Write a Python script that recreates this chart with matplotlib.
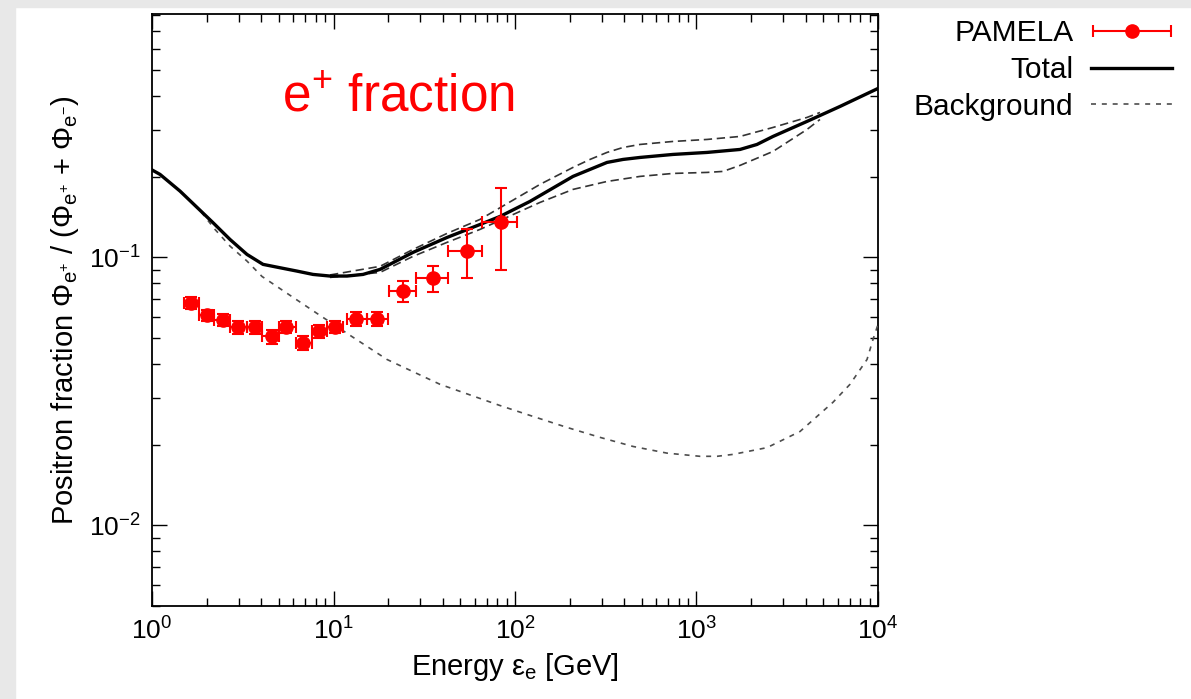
import numpy as np
import matplotlib
matplotlib.use("Agg")
from matplotlib import pyplot as plt
from matplotlib.patches import Rectangle
from matplotlib.ticker import LogLocator, NullFormatter
from matplotlib.container import ErrorbarContainer
from matplotlib.legend_handler import HandlerErrorbar

plt.rcParams['font.family'] = ['Liberation Sans', 'DejaVu Sans']
plt.rcParams['mathtext.fontset'] = 'custom'
plt.rcParams['mathtext.rm'] = 'Liberation Sans'
plt.rcParams['mathtext.it'] = 'Liberation Sans'
plt.rcParams['mathtext.sf'] = 'Liberation Sans'

# PAMELA positron fraction
pam_E = [1.65, 2.0, 2.45, 2.99, 3.69, 4.57, 5.45, 6.82, 8.32, 10.2, 13.3, 17.4, 24.2, 35.5, 54.2, 83.4]
pam_lo = [1.51, 1.82, 2.20, 2.69, 3.32, 4.05, 5.03, 6.19, 7.59, 9.18, 11.8, 15.2, 20.3, 28.4, 42.9, 65.5]
pam_hi = [1.82, 2.20, 2.69, 3.32, 4.05, 5.03, 6.19, 7.59, 9.18, 11.3, 15.2, 20.0, 28.4, 42.9, 65.5, 102.0]
pam_f = [0.0678, 0.0608, 0.0584, 0.0550, 0.0550, 0.0507, 0.0551, 0.0481, 0.0531, 0.0551,
         0.0590, 0.0590, 0.0749, 0.0835, 0.106, 0.136]
pam_err = [0.0035, 0.003, 0.003, 0.003, 0.003, 0.003, 0.003, 0.003, 0.003, 0.003,
           0.0034, 0.0034, 0.0065, 0.0093, 0.022, 0.046]

# total model
tot_E = [1.0, 1.107, 1.427, 2.168, 2.690, 3.337, 4.089, 5.073, 6.294, 7.712, 9.565, 11.87,
         14.54, 18.04, 27.42, 42.21, 64.15, 82.69, 120.9, 208.7, 258.9, 321.3, 393.6, 488.3,
         742.3, 1143, 1737, 2154, 2639, 4062, 6175, 10000]
tot_f = [0.2121, 0.2041, 0.1768, 0.1348, 0.1167, 0.1026, 0.0942, 0.0915, 0.0889, 0.0864,
         0.0852, 0.0852, 0.0864, 0.0902, 0.1044, 0.1187, 0.1327, 0.1422, 0.1618, 0.2006,
         0.2130, 0.2262, 0.2321, 0.2361, 0.2423, 0.2465, 0.2529, 0.2640, 0.2828, 0.3218,
         0.3660, 0.4272]

# uncertainty band around total (dashed)
up_E = [9.565, 18.04, 27.42, 42.21, 64.15, 137.3, 208.7, 258.9, 321.3, 393.6, 488.3, 742.3,
        1143, 1737, 2639, 4062, 4790]
up_f = [0.0860, 0.0926, 0.1071, 0.1229, 0.1386, 0.1873, 0.2167, 0.2321, 0.2465, 0.2572,
        0.2640, 0.2709, 0.2756, 0.2828, 0.3055, 0.3330, 0.3475]
lo_E = [9.565, 18.04, 27.42, 42.21, 64.15, 137.3, 208.7, 321.3, 488.3, 742.3, 1143, 1400,
        1737, 2639, 4062, 4790]
lo_f = [0.0842, 0.0879, 0.1009, 0.1138, 0.1272, 0.1604, 0.1794, 0.1921, 0.2006, 0.2058,
        0.2076, 0.2094, 0.2205, 0.2486, 0.3003, 0.3272]

# background
bg_E = [1.0, 1.107, 1.427, 1.838, 2.224, 2.690, 3.337, 4.037, 5.759, 8.112, 12.33, 19.71,
        38.63, 82.69, 125.7, 193.4, 294.0, 446.8, 687.9, 1045, 1297, 1589, 2446, 3717,
        5651, 7009, 8700, 9387, 10000]
bg_f = [0.2121, 0.2041, 0.1768, 0.1497, 0.1272, 0.1102, 0.0969, 0.0849, 0.0722, 0.0618,
        0.0512, 0.0416, 0.0336, 0.0280, 0.0255, 0.0232, 0.0213, 0.0197, 0.0186, 0.0181,
        0.0181, 0.0184, 0.0195, 0.0224, 0.0288, 0.0336, 0.0416, 0.0494, 0.0562]

fig = plt.figure(figsize=(11.91, 6.99), dpi=100)
fig.patches.append(Rectangle((0, 0), 15 / 1191, 1, transform=fig.transFigure,
                             color='#e8e8e8', zorder=0))
fig.patches.append(Rectangle((0, 1 - 7 / 699), 1, 7 / 699, transform=fig.transFigure,
                             color='#e8e8e8', zorder=0))
ax = fig.add_axes([152 / 1191, 1 - 606 / 699, 726 / 1191, 592 / 699])

red = '#ff0000'
E = np.array(pam_E)
xerr = [E - np.array(pam_lo), np.array(pam_hi) - E]
h_pam = ax.errorbar(pam_E, pam_f, xerr=xerr, fmt='o', color=red, ms=9.5, elinewidth=1.5,
                    capsize=4.5, capthick=1.5, label='PAMELA', zorder=5)
ax.errorbar(pam_E, pam_f, yerr=pam_err, fmt='none', ecolor=red, elinewidth=1.5,
            capsize=4.5, capthick=1.5, zorder=5)

h_tot, = ax.plot(tot_E, tot_f, color='black', lw=2.4, label='Total', zorder=4)
ax.plot(up_E, up_f, color='#333333', lw=1.2, dashes=(5, 2.8), zorder=3)
ax.plot(lo_E, lo_f, color='#333333', lw=1.2, dashes=(5, 2.8), zorder=3)
h_bg, = ax.plot(bg_E, bg_f, color='#4d4d4d', lw=1.2, dashes=(3, 3.5), label='Background', zorder=3)

ax.set_xscale('log')
ax.set_yscale('log')
ax.set_xlim(1, 1e4)
ax.set_ylim(0.005, 0.81)
ax.yaxis.set_minor_locator(LogLocator(base=10, subs=np.arange(2, 10)))
ax.yaxis.set_minor_formatter(NullFormatter())
ax.xaxis.set_minor_formatter(NullFormatter())
ax.tick_params(which='both', direction='in', top=True, right=True, width=1.0)
ax.tick_params(which='major', length=11, labelsize=19, pad=8)
ax.tick_params(which='minor', length=5.5)
for s in ax.spines.values():
    s.set_linewidth(1.3)

ax.set_xlabel(r'Energy $\varepsilon_{\mathrm{e}}$ [GeV]', fontsize=21, labelpad=5)
ax.set_ylabel(r'Positron fraction $\Phi_{\mathrm{e}^{+}}$ / ($\Phi_{\mathrm{e}^{+}}$ + $\Phi_{\mathrm{e}^{-}}$)',
              fontsize=21, labelpad=6)

fig.text(282 / 1191, 1 - 112 / 699, r'e$^{+}$ fraction', color=red, fontsize=37,
         va='baseline', ha='left')

fig.legend([h_pam, h_tot, h_bg], ['PAMELA', 'Total', 'Background'],
           handler_map={ErrorbarContainer: HandlerErrorbar(xerr_size=1.3)},
           loc='upper right', bbox_to_anchor=(1172 / 1191, 1 - 19 / 699),
           frameon=False, markerfirst=False, fontsize=21.5, borderpad=0,
           handlelength=2.7, handletextpad=0.6, labelspacing=0.3, borderaxespad=0)

fig.savefig('out.png', dpi=100)
